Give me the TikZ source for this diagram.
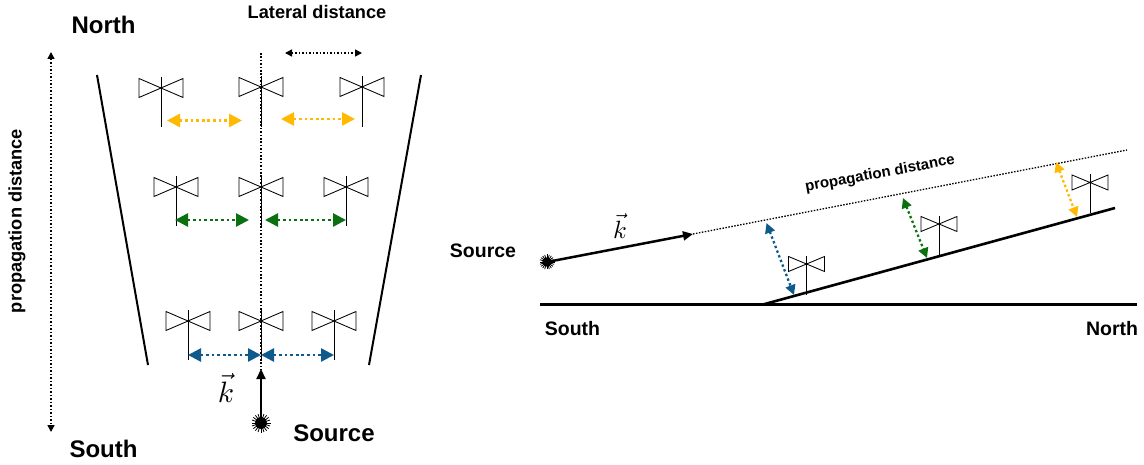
\documentclass[tikz,border=0pt]{standalone}
\usepackage{fontspec}
\setmainfont{Liberation Sans}
\usepackage{amsmath}
\usetikzlibrary{arrows.meta}
\definecolor{cyel}{HTML}{FFB900}
\definecolor{cgrn}{HTML}{0B7010}
\definecolor{cblu}{HTML}{0F5A8C}
\tikzset{
  x=1pt,y=-1pt,
  lab/.style={inner sep=0pt,font=\bfseries\fontsize{#1}{#1}\selectfont},
  thick line/.style={line width=2.6pt,black},
  wall/.style={line width=2pt,black},
  thindot/.style={line width=1.7pt,dash pattern=on 1.7pt off 1.7pt,black},
  dbl/.style={line width=2.7pt,dash pattern=on 2.8pt off 2.8pt,{Triangle[length=13pt,width=13pt]}-{Triangle[length=13pt,width=13pt]}},
  smalldbl/.style={line width=1.5pt,dash pattern=on 1.7pt off 1.8pt,{Triangle[length=7pt,width=7pt]}-{Triangle[length=7pt,width=7pt]},black},
  antline/.style={line width=0.85pt,black,line join=miter},
}
% \ant{name}{x}{y}{half width}{half height}{stem top offset}{stem bottom y}
\newcommand{\ant}[7]{%
  \coordinate (#1) at (#2,#3);
  \draw[antline] (#2-#4,#3-#5) -- (#2+#4,#3+#5) -- (#2+#4,#3-#5) -- (#2-#4,#3+#5) -- cycle;
  \draw[antline] (#2,#3-#6) -- (#2,#7);
  \fill (#1) circle (1pt);
}
% \burst{name}{radius}
\newcommand{\burst}[2]{%
  \fill (#1) circle (#2*0.62);
  \foreach \a in {0,18,...,342}{\draw[line width=0.8pt] (#1) -- ++(\a:#2);}
}
\begin{document}
\begin{tikzpicture}
\useasboundingbox (0,0) rectangle (1144,465);
% ---------- left panel
\coordinate (wl1) at (97,75); \coordinate (wl2) at (148,365);
\coordinate (wr1) at (421,75); \coordinate (wr2) at (369,365);
\draw[wall] (wl1) -- (wl2);
\draw[wall] (wr1) -- (wr2);
\coordinate (ctop) at (261,53); \coordinate (cbot) at (261,370);
\draw[thindot] (ctop) -- (cbot);
\ant{a1}{161}{88}{22}{9.5}{11}{127}
\ant{a2}{261}{87}{22}{9.5}{11}{127}
\ant{a3}{362}{87}{22}{9.5}{11}{127}
\ant{b1}{176}{187}{22}{9.5}{11}{226}
\ant{b2}{261}{187}{22}{9.5}{11}{226}
\ant{b3}{346}{187}{22}{9.5}{11}{226}
\ant{c1}{188}{321}{22}{9.5}{11}{360}
\ant{c2}{261}{321}{22}{9.5}{11}{360}
\ant{c3}{334}{321}{22}{9.5}{11}{360}
\coordinate (y1) at (167,120.5); \coordinate (y2) at (242,120.5);
\coordinate (y3) at (281,119); \coordinate (y4) at (355,119);
\draw[dbl,cyel] (y1) -- (y2);
\draw[dbl,cyel] (y3) -- (y4);
\coordinate (g1) at (175,220); \coordinate (g2) at (249,220);
\coordinate (g3) at (265,220); \coordinate (g4) at (346,220);
\draw[dbl,cgrn] (g1) -- (g2);
\draw[dbl,cgrn] (g3) -- (g4);
\coordinate (bl1) at (188,355); \coordinate (bl2) at (261,355); \coordinate (bl3) at (334,355);
\draw[dbl,cblu] (bl1) -- (bl2);
\draw[dbl,cblu] (bl2) -- (bl3);
\coordinate (src) at (261,423); \coordinate (ktip) at (261,369);
\draw[line width=2.2pt,-{Triangle[length=10pt,width=9pt]}] (src) -- (ktip);
\burst{src}{9.5}
\coordinate (lat1) at (285,53); \coordinate (lat2) at (362,53);
\draw[smalldbl] (lat1) -- (lat2);
\coordinate (pr1) at (51,52); \coordinate (pr2) at (51,432);
\draw[smalldbl] (pr1) -- (pr2);
\node[lab=24] (north1) at (103.5,24.5) {North};
\node[lab=24] (south1) at (103.5,448.5) {South};
\node[lab=24] (source1) at (334,433.5) {Source};
\node[lab=18.2] (latlab) at (317,11.5) {Lateral distance};
\node[lab=18.2,rotate=90] (proplab) at (17,221) {propagation distance};
\node[inner sep=0pt,scale=2.95] (k1) at (226,388) {$\vec{k}$};
% ---------- right panel
\coordinate (gr1) at (540,304.5); \coordinate (gr2) at (1137,304.5);
\coordinate (sl1) at (763,304.5); \coordinate (sl2) at (1115,208);
\draw[thick line] (gr1) -- (gr2);
\draw[thick line] (sl1) -- (sl2);
\coordinate (src2) at (547,262); \coordinate (ktip2) at (693,234);
\coordinate (dotend) at (1127,150);
\draw[thindot,line width=1.3pt,dash pattern=on 1.5pt off 1.5pt] (ktip2) -- (dotend);
\draw[line width=2.5pt,-{Triangle[length=10pt,width=9pt]}] (src2) -- (ktip2);
\burst{src2}{7.5}
\ant{d1}{806.5}{264}{18}{7.5}{8}{295}
\ant{d2}{939}{224}{18}{7.5}{8}{256.5}
\ant{d3}{1090}{182.5}{18}{7.5}{8}{213}
\coordinate (ba) at (766.5,223); \coordinate (bb) at (794,295);
\coordinate (ga) at (903,198); \coordinate (gb) at (927,258);
\coordinate (ya) at (1056,162); \coordinate (yb) at (1077,217);
\tikzset{dblr/.style={dbl,line width=2.3pt,dash pattern=on 2.4pt off 2.6pt,{Triangle[length=10pt,width=10pt]}-{Triangle[length=10pt,width=10pt]}}}
\draw[dblr,cblu] (ba) -- (bb);
\draw[dblr,cgrn] (ga) -- (gb);
\draw[dblr,cyel] (ya) -- (yb);
\node[lab=19.5] (source2) at (483,250.5) {Source};
\node[lab=19.5] (south2) at (572.5,329) {South};
\node[lab=19.5] (north2) at (1112,329) {North};
\node[lab=15,rotate=10.5] (proplab2) at (880,174) {propagation distance};
\node[inner sep=0pt,scale=2.5] (k2) at (620,226) {$\vec{k}$};
\end{tikzpicture}
\end{document}
